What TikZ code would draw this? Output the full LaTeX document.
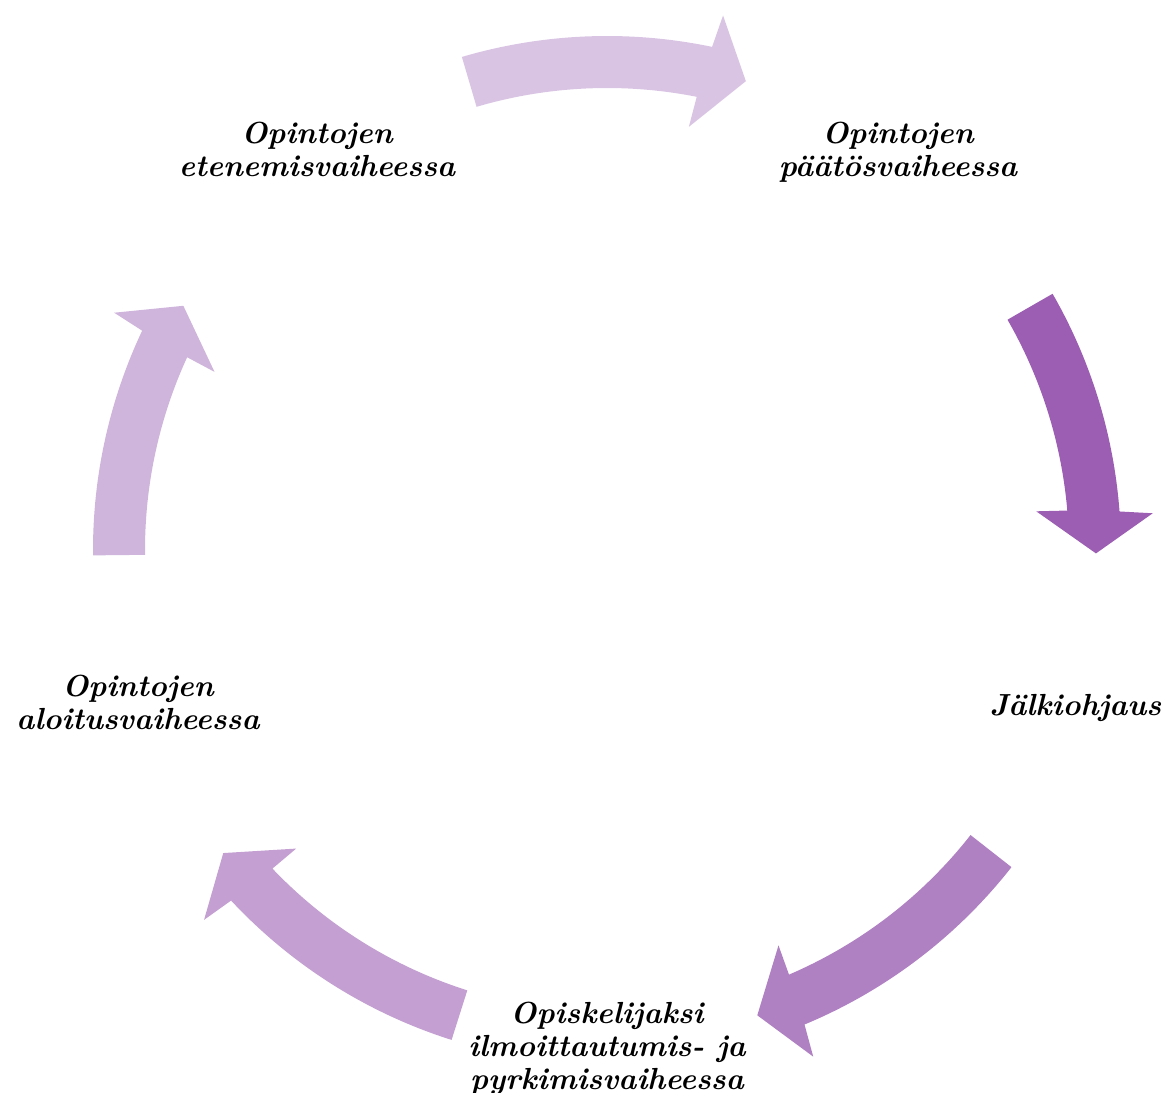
\documentclass[tikz,border=0pt]{standalone}
\usepackage{tikz}
\definecolor{arTop}{RGB}{218,196,228}
\definecolor{arRight}{RGB}{156,94,178}
\definecolor{arBR}{RGB}{175,128,194}
\definecolor{arBL}{RGB}{196,159,209}
\definecolor{arLeft}{RGB}{207,180,220}
\newcommand{\cycarrow}[3]{%
  \fill[#3] (#1:514pt) arc[start angle=#1, end angle=#2+4.7, radius=514pt]
    -- (#2+4.25:547pt) -- (#2:489pt) -- (#2+5.55:431pt) -- (#2+5.3:462pt)
    arc[start angle=#2+5.3, end angle=#1, radius=462pt] -- cycle;}
\begin{document}
\begin{tikzpicture}[x=1pt,y=1pt,
  lbl/.style={align=center, anchor=base, inner sep=0pt,
    font=\bfseries\itshape\fontsize{30.5}{33}\selectfont}]
\useasboundingbox (-607,-543) rectangle (564,550);
\cycarrow{106.4}{73.5}{arTop}
\cycarrow{29.9}{-0.4}{arRight}
\cycarrow{-38.1}{-72.1}{arBR}
\cycarrow{252.4}{218.3}{arBL}
\cycarrow{180.6}{150.04}{arLeft}
\node[lbl] (tr) at (291,373) {Opintojen\\päätösvaiheessa};
\node[lbl] (r) at (468.5,-165) {Jälkiohjaus};
\node[lbl] (b) at (0,-539) {Opiskelijaksi\\ilmoittautumis- ja\\pyrkimisvaiheessa};
\node[lbl] (l) at (-469,-179) {Opintojen\\aloitusvaiheessa};
\node[lbl] (tl) at (-290,373) {Opintojen\\etenemisvaiheessa};
\end{tikzpicture}
\end{document}
